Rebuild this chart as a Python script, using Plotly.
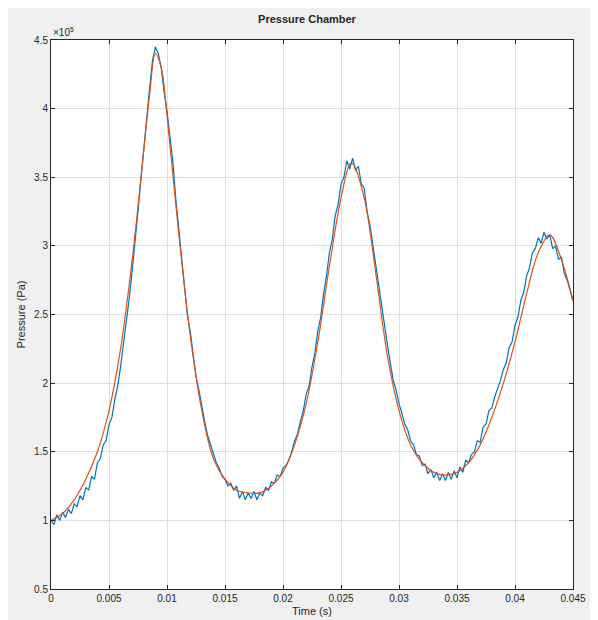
import numpy as np
import plotly.graph_objects as go

# measured signal, sampled every 0.25 ms (values in 1e5 Pa)
dt_meas = 0.00025
p_meas = [1.00, 0.97, 1.04, 1.00, 1.06, 1.02, 1.08, 1.05, 1.12,
          1.10, 1.18, 1.15, 1.24, 1.22, 1.32, 1.30, 1.42,
          1.45, 1.55, 1.58, 1.70, 1.75, 1.88, 1.98, 2.12,
          2.28, 2.45, 2.62, 2.82, 3.02, 3.25, 3.48, 3.72,
          3.95, 4.15, 4.35, 4.45, 4.40, 4.30, 4.12, 3.98,
          3.80, 3.62, 3.35, 3.15, 2.90, 2.70, 2.50, 2.38,
          2.22, 2.05, 1.95, 1.82, 1.72, 1.62, 1.55, 1.48,
          1.42, 1.38, 1.32, 1.30, 1.25, 1.27, 1.22, 1.25,
          1.16, 1.21, 1.15, 1.20, 1.16, 1.21, 1.15, 1.20,
          1.18, 1.24, 1.22, 1.28, 1.27, 1.33, 1.32, 1.38,
          1.40, 1.44, 1.50, 1.58, 1.63, 1.72, 1.80, 1.92,
          1.98, 2.12, 2.22, 2.38, 2.48, 2.65, 2.78, 2.95,
          3.05, 3.22, 3.30, 3.45, 3.50, 3.62, 3.56, 3.64,
          3.55, 3.58, 3.45, 3.42, 3.25, 3.15, 3.00, 2.88,
          2.72, 2.55, 2.42, 2.28, 2.15, 2.02, 1.95, 1.85,
          1.78, 1.70, 1.66, 1.58, 1.55, 1.48, 1.47, 1.40,
          1.41, 1.34, 1.37, 1.31, 1.35, 1.29, 1.34, 1.29,
          1.35, 1.30, 1.36, 1.31, 1.39, 1.35, 1.44, 1.42,
          1.48, 1.50, 1.58, 1.57, 1.68, 1.70, 1.80, 1.82,
          1.90, 1.96, 2.02, 2.10, 2.15, 2.26, 2.30, 2.42,
          2.48, 2.60, 2.66, 2.78, 2.84, 2.95, 2.98, 3.06,
          3.02, 3.10, 3.05, 3.08, 2.98, 3.00, 2.90, 2.92,
          2.80, 2.75, 2.68, 2.60]
t_meas = np.arange(len(p_meas)) * dt_meas

# model curve
t_model = [0, 0.001, 0.002, 0.003, 0.004, 0.005, 0.006, 0.007, 0.008, 0.0085,
           0.009, 0.0095, 0.010, 0.011, 0.012, 0.013, 0.014, 0.015, 0.016, 0.017,
           0.018, 0.019, 0.020, 0.021, 0.022, 0.023, 0.024, 0.025, 0.0258, 0.026,
           0.027, 0.028, 0.029, 0.030, 0.031, 0.032, 0.033, 0.034, 0.035, 0.036,
           0.037, 0.038, 0.039, 0.040, 0.041, 0.042, 0.043, 0.044, 0.045]
p_model = [1.00, 1.05, 1.15, 1.30, 1.50, 1.80, 2.25, 2.90, 3.70, 4.10,
           4.40, 4.30, 3.95, 3.10, 2.35, 1.80, 1.45, 1.30, 1.22, 1.20,
           1.20, 1.25, 1.35, 1.55, 1.85, 2.30, 2.85, 3.35, 3.60, 3.60,
           3.35, 2.80, 2.20, 1.80, 1.55, 1.42, 1.35, 1.33, 1.35, 1.42,
           1.55, 1.75, 2.00, 2.30, 2.65, 2.95, 3.08, 2.90, 2.60]

fig = go.Figure()
fig.add_trace(go.Scatter(x=t_meas, y=p_meas, mode='lines',
                         line=dict(color='#0072BD', width=1.2)))
fig.add_trace(go.Scatter(x=t_model, y=p_model, mode='lines', line_shape='spline',
                         line=dict(color='#D95319', width=1.2)))

ax = dict(showline=True, linecolor='#262626', mirror='ticks', ticks='inside',
          ticklen=4, tickcolor='#262626', showgrid=True, gridcolor='#dfdfdf',
          zeroline=False, tickfont=dict(size=10, color='#262626'))
fig.update_xaxes(range=[0, 0.045], dtick=0.005, tickformat='~g',
                 title=dict(text='Time (s)', font=dict(size=11), standoff=4), **ax)
fig.update_yaxes(range=[0.5, 4.5], dtick=0.5, tickformat='~g',
                 title=dict(text='Pressure (Pa)', font=dict(size=11), standoff=6), **ax)

fig.update_layout(
    width=598, height=620, showlegend=False,
    paper_bgcolor='#f0f0f0', plot_bgcolor='white',
    margin=dict(l=43, r=33, t=32, b=37),
    font=dict(family='Liberation Sans, Arial', color='#262626'),
    title=dict(text='<b>Pressure Chamber</b>', x=0.5, xanchor='center',
               y=0.988, font=dict(size=11)),
    annotations=[dict(text='×10<sup>5</sup>', xref='paper', yref='paper',
                      x=0, y=1, xanchor='left', yanchor='bottom',
                      showarrow=False, font=dict(size=10))],
)

fig.write_html("out.html")
